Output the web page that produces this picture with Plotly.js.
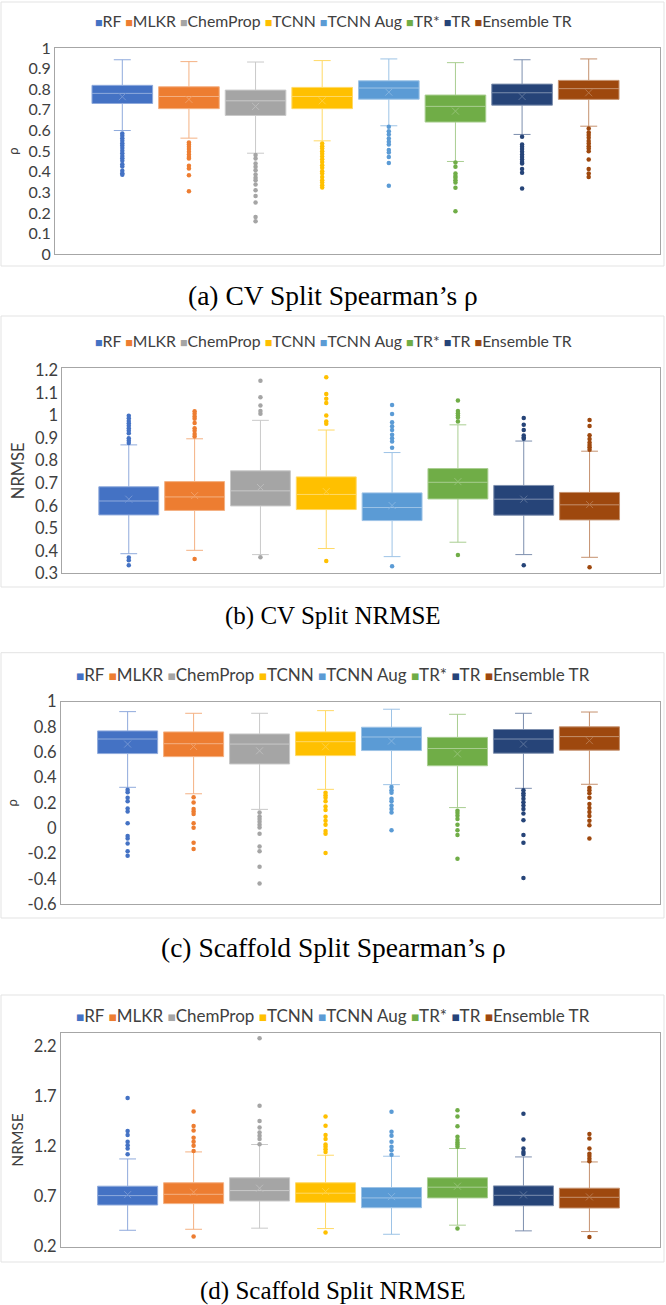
<!DOCTYPE html>
<html>
<head>
<meta charset="utf-8">
<script src="https://cdn.plot.ly/plotly-3.0.1.min.js"></script>
<style>
html,body{margin:0;padding:0;background:#ffffff;}
#chart{width:666px;height:1305px;}
</style>
</head>
<body>
<div id="chart"></div>
<script>
// ---------- categories ----------
const models = ['RF', 'MLKR', 'ChemProp', 'TCNN', 'TCNN Aug', 'TR*', 'TR', 'Ensemble TR'];

// ---------- (a) CV split Spearman's rho ----------
const aLowerFence = [0.600, 0.563, 0.490, 0.550, 0.623, 0.450, 0.581, 0.621];
const aQ1         = [0.731, 0.706, 0.673, 0.706, 0.752, 0.641, 0.723, 0.751];
const aMedian     = [0.780, 0.765, 0.744, 0.765, 0.806, 0.717, 0.783, 0.803];
const aQ3         = [0.819, 0.812, 0.796, 0.809, 0.841, 0.772, 0.825, 0.843];
const aUpperFence = [0.943, 0.934, 0.932, 0.939, 0.947, 0.929, 0.943, 0.947];
const aMean       = [0.764, 0.751, 0.717, 0.744, 0.786, 0.694, 0.765, 0.783];
const aOutliers = [
  [0.585,0.575,0.562,0.551,0.538,0.527,0.515,0.502,0.490,0.477,0.466,0.453,0.437,0.426,0.405,0.393,0.385],
  [0.542,0.532,0.521,0.510,0.497,0.484,0.472,0.464,0.429,0.416,0.383,0.306],
  [0.481,0.464,0.440,0.424,0.408,0.387,0.371,0.359,0.338,0.311,0.282,0.251,0.181,0.160],
  [0.537,0.524,0.513,0.500,0.487,0.474,0.461,0.448,0.432,0.419,0.403,0.392,0.375,0.359,0.348,0.335,0.324],
  [0.618,0.597,0.581,0.561,0.545,0.532,0.505,0.494,0.472,0.443,0.332],
  [0.445,0.424,0.392,0.380,0.371,0.359,0.348,0.322,0.209],
  [0.570,0.532,0.521,0.510,0.497,0.484,0.472,0.460,0.448,0.440,0.413,0.395,0.319],
  [0.610,0.591,0.578,0.565,0.549,0.537,0.524,0.513,0.500,0.460,0.413,0.392,0.375]
];
const aTickVals = [0, 0.1, 0.2, 0.3, 0.4, 0.5, 0.6, 0.7, 0.8, 0.9, 1];
const aTickText = ['0', '0.1', '0.2', '0.3', '0.4', '0.5', '0.6', '0.7', '0.8', '0.9', '1'];

// ---------- (b) CV split NRMSE ----------
const bLowerFence = [0.387, 0.402, 0.383, 0.410, 0.374, 0.438, 0.383, 0.371];
const bQ1         = [0.559, 0.579, 0.599, 0.583, 0.534, 0.630, 0.558, 0.537];
const bMedian     = [0.621, 0.639, 0.666, 0.650, 0.592, 0.704, 0.629, 0.604];
const bQ3         = [0.684, 0.707, 0.755, 0.728, 0.657, 0.765, 0.690, 0.659];
const bUpperFence = [0.870, 0.897, 0.979, 0.936, 0.836, 0.959, 0.887, 0.842];
const bMean       = [0.629, 0.645, 0.681, 0.663, 0.601, 0.707, 0.629, 0.605];
const bOutliers = [
  [0.999,0.988,0.976,0.966,0.955,0.944,0.933,0.922,0.900,0.888,0.878,0.370,0.358,0.336],
  [1.019,1.008,0.996,0.986,0.967,0.944,0.933,0.918,0.907,0.364],
  [1.155,1.082,1.045,1.021,1.008,0.371],
  [1.170,1.096,1.075,1.056,1.001,0.974,0.964,0.355],
  [1.047,1.007,0.971,0.953,0.936,0.915,0.900,0.885,0.857,0.331],
  [1.067,1.021,1.010,1.000,0.992,0.974,0.381],
  [0.989,0.959,0.936,0.912,0.903,0.897,0.336],
  [0.980,0.954,0.913,0.896,0.881,0.869,0.859,0.848,0.327]
];
const bTickVals = [0.3, 0.4, 0.5, 0.6, 0.7, 0.8, 0.9, 1, 1.1, 1.2];
const bTickText = ['0.3', '0.4', '0.5', '0.6', '0.7', '0.8', '0.9', '1', '1.1', '1.2'];

// ---------- (c) Scaffold split Spearman's rho ----------
const cLowerFence = [0.323, 0.272, 0.149, 0.307, 0.344, 0.163, 0.315, 0.347];
const cQ1         = [0.589, 0.565, 0.507, 0.573, 0.613, 0.493, 0.592, 0.616];
const cMedian     = [0.704, 0.667, 0.664, 0.683, 0.720, 0.629, 0.704, 0.723];
const cQ3         = [0.768, 0.760, 0.744, 0.760, 0.797, 0.717, 0.779, 0.800];
const cUpperFence = [0.920, 0.907, 0.907, 0.928, 0.939, 0.899, 0.907, 0.917];
const cMean       = [0.664, 0.645, 0.611, 0.643, 0.688, 0.587, 0.664, 0.691];
const cOutliers = [
  [0.304,0.285,0.240,0.213,0.155,0.133,0.040,-0.061,-0.080,-0.120,-0.181,-0.216],
  [0.245,0.203,0.152,0.133,0.112,0.040,0.003,-0.115,-0.163],
  [0.125,0.093,0.072,0.051,0.027,0.005,-0.043,-0.144,-0.181,-0.304,-0.435],
  [0.280,0.261,0.240,0.213,0.171,0.144,0.091,0.059,0.027,-0.021,-0.043,-0.195],
  [0.325,0.299,0.280,0.232,0.213,0.179,0.152,0.125,-0.016],
  [0.139,0.120,0.099,0.072,0.027,-0.016,-0.053,-0.240],
  [0.299,0.277,0.259,0.232,0.205,0.179,0.152,0.117,0.064,-0.053,-0.115,-0.392],
  [0.320,0.299,0.277,0.240,0.192,0.160,0.128,0.096,0.059,0.024,-0.080]
];
const cTickVals = [-0.6, -0.4, -0.2, 0, 0.2, 0.4, 0.6, 0.8, 1];
const cTickText = ['-0.6', '-0.4', '-0.2', '0', '0.2', '0.4', '0.6', '0.8', '1'];

// ---------- (d) Scaffold split NRMSE ----------
const dLowerFence = [0.364, 0.374, 0.385, 0.381, 0.324, 0.415, 0.358, 0.351];
const dQ1         = [0.616, 0.630, 0.656, 0.643, 0.589, 0.687, 0.609, 0.586];
const dMedian     = [0.710, 0.723, 0.760, 0.734, 0.687, 0.794, 0.713, 0.693];
const dQ3         = [0.804, 0.838, 0.888, 0.838, 0.791, 0.888, 0.807, 0.784];
const dUpperFence = [1.076, 1.146, 1.220, 1.113, 1.103, 1.180, 1.096, 1.046];
const dMean       = [0.720, 0.744, 0.784, 0.750, 0.700, 0.804, 0.717, 0.697];
const dOutliers = [
  [1.683,1.354,1.314,1.247,1.213,1.180,1.123],
  [1.549,1.405,1.361,1.287,1.247,1.207,1.156,0.301],
  [2.280,1.606,1.455,1.391,1.341,1.307,1.274,1.223],
  [1.499,1.408,1.314,1.274,1.220,1.197,1.173,1.146,0.341],
  [1.546,1.348,1.307,1.247,1.197,1.163,1.119],
  [1.562,1.499,1.401,1.297,1.264,1.240,1.220,1.197,0.381],
  [1.526,1.270,1.180,1.146,1.126],
  [1.324,1.280,1.180,1.129,1.106,1.079,1.052,0.297]
];
const dTickVals = [0.2, 0.7, 1.2, 1.7, 2.2];
const dTickText = ['0.2', '0.7', '1.2', '1.7', '2.2'];

// ---------- styles ----------
const seriesColors = ['#4472C4', '#ED7D31', '#A5A5A5', '#FFC000', '#5B9BD5', '#70AD47', '#264478', '#9E480E'];
function tint(hex, f) {
  const n = parseInt(hex.slice(1), 16);
  const r = (n >> 16) & 255, g = (n >> 8) & 255, b = n & 255;
  const m = c => Math.round(c + (255 - c) * f);
  return 'rgb(' + m(r) + ',' + m(g) + ',' + m(b) + ')';
}
const lineColors = seriesColors.map(c => tint(c, 0.4));
const meanColors = seriesColors.map(c => tint(c, 0.25));

const W = 666, H = 1305;
const py = v => 1 - v / H;
const px = v => v / W;

const panels = [
  {lf: aLowerFence, q1: aQ1, med: aMedian, q3: aQ3, uf: aUpperFence, mean: aMean, out: aOutliers,
   tv: aTickVals, tt: aTickText, range: [0, 1], top: 48, bottom: 254.3, left: 55, right: 660,
   title: 'ρ', titleSize: 13, tickSize: 16, legendY: 20, legendSize: 15.8,
   caption: '(a) CV Split Spearman’s ρ', captionSize: 27.5, captionY: 295, frame: [2, 266]},
  {lf: bLowerFence, q1: bQ1, med: bMedian, q3: bQ3, uf: bUpperFence, mean: bMean, out: bOutliers,
   tv: bTickVals, tt: bTickText, range: [0.3, 1.21], top: 368.3, bottom: 573.3, left: 62.3, right: 660,
   title: 'NRMSE', titleSize: 16.5, tickSize: 16.5, legendY: 340.7, legendSize: 15.8,
   caption: '(b) CV Split NRMSE', captionSize: 25, captionY: 616, frame: [316, 587]},
  {lf: cLowerFence, q1: cQ1, med: cMedian, q3: cQ3, uf: cUpperFence, mean: cMean, out: cOutliers,
   tv: cTickVals, tt: cTickText, range: [-0.6, 1.0], top: 701.5, bottom: 904.3, left: 61, right: 660,
   title: 'ρ', titleSize: 13, tickSize: 16.5, legendY: 674, legendSize: 17,
   caption: '(c) Scaffold Split Spearman’s ρ', captionSize: 27.5, captionY: 947, frame: [652.7, 918]},
  {lf: dLowerFence, q1: dQ1, med: dMedian, q3: dQ3, uf: dUpperFence, mean: dMean, out: dOutliers,
   tv: dTickVals, tt: dTickText, range: [0.2, 2.33], top: 1033.3, bottom: 1246.7, left: 61, right: 660,
   title: 'NRMSE', titleSize: 15.5, tickSize: 16.5, legendY: 1015.7, legendSize: 17,
   caption: '(d) Scaffold Split NRMSE', captionSize: 25, captionY: 1291, frame: [995, 1262]}
];

const traces = [];
const layout = {
  width: W, height: H,
  margin: {l: 0, r: 0, t: 0, b: 0},
  paper_bgcolor: '#ffffff', plot_bgcolor: '#ffffff',
  showlegend: false,
  annotations: [], shapes: []
};
const textColor = '#404040';

panels.forEach((P, p) => {
  const sfx = p === 0 ? '' : String(p + 1);
  const xa = 'x' + sfx, ya = 'y' + sfx;
  models.forEach((m, i) => {
    traces.push({
      type: 'box', name: m, xaxis: xa, yaxis: ya,
      x: [i], q1: [P.q1[i]], median: [P.med[i]], q3: [P.q3[i]],
      lowerfence: [P.lf[i]], upperfence: [P.uf[i]],
      width: 0.91, whiskerwidth: 0.28, boxpoints: false,
      fillcolor: seriesColors[i], line: {color: lineColors[i], width: 1},
      showlegend: false, hoverinfo: 'skip'
    });
    traces.push({
      type: 'scatter', mode: 'markers', name: m, xaxis: xa, yaxis: ya,
      x: P.out[i].map(() => i), y: P.out[i],
      marker: {color: seriesColors[i], size: 4.5},
      showlegend: false, hoverinfo: 'skip'
    });
  });
  traces.push({
    type: 'scatter', mode: 'markers', name: 'mean', xaxis: xa, yaxis: ya,
    x: models.map((_, i) => i), y: P.mean,
    marker: {symbol: 'x-thin', size: 7, color: meanColors, line: {width: 1, color: meanColors}},
    showlegend: false, hoverinfo: 'skip'
  });

  layout['xaxis' + sfx] = {
    domain: [px(P.left), px(P.right)], anchor: ya,
    range: [-1.01, 8.07], showticklabels: false, ticks: '',
    showgrid: false, zeroline: false, showline: true, mirror: true,
    linecolor: '#a6a6a6', linewidth: 1, fixedrange: true
  };
  layout['yaxis' + sfx] = {
    domain: [py(P.bottom), py(P.top)], anchor: xa,
    range: P.range, tickvals: P.tv, ticktext: P.tt, ticks: '',
    showgrid: false, zeroline: false, showline: true, mirror: true,
    linecolor: '#a6a6a6', linewidth: 1, fixedrange: true,
    tickfont: {family: 'Lato, sans-serif', size: P.tickSize, color: textColor},
    title: {text: P.title, font: {family: 'Lato, sans-serif', size: P.titleSize, color: textColor}, standoff: 6}
  };

  // legend row (Excel style)
  const legendText = models.map((m, i) =>
    '<span style="color:' + seriesColors[i] + ';font-size:' + (P.legendSize * 0.8).toFixed(1) + 'px">■</span>' + m
  ).join(' ');
  layout.annotations.push({
    xref: 'paper', yref: 'paper', x: 0.5, y: py(P.legendY),
    xanchor: 'center', yanchor: 'middle', showarrow: false,
    text: legendText, font: {family: 'Lato, sans-serif', size: P.legendSize, color: textColor}
  });
  // caption
  layout.annotations.push({
    xref: 'paper', yref: 'paper', x: 0.5, y: py(P.captionY),
    xanchor: 'center', yanchor: 'middle', showarrow: false,
    text: P.caption, font: {family: 'Liberation Serif, Times New Roman, serif', size: P.captionSize, color: '#000000'}
  });
  // chart-area frame
  layout.shapes.push({
    type: 'rect', xref: 'paper', yref: 'paper',
    x0: px(1), x1: px(664), y0: py(P.frame[1]), y1: py(P.frame[0]),
    line: {color: '#e3e3e3', width: 1}, fillcolor: 'rgba(0,0,0,0)', layer: 'below'
  });
});

Plotly.newPlot('chart', traces, layout, {displayModeBar: false, staticPlot: true});
</script>
</body>
</html>
